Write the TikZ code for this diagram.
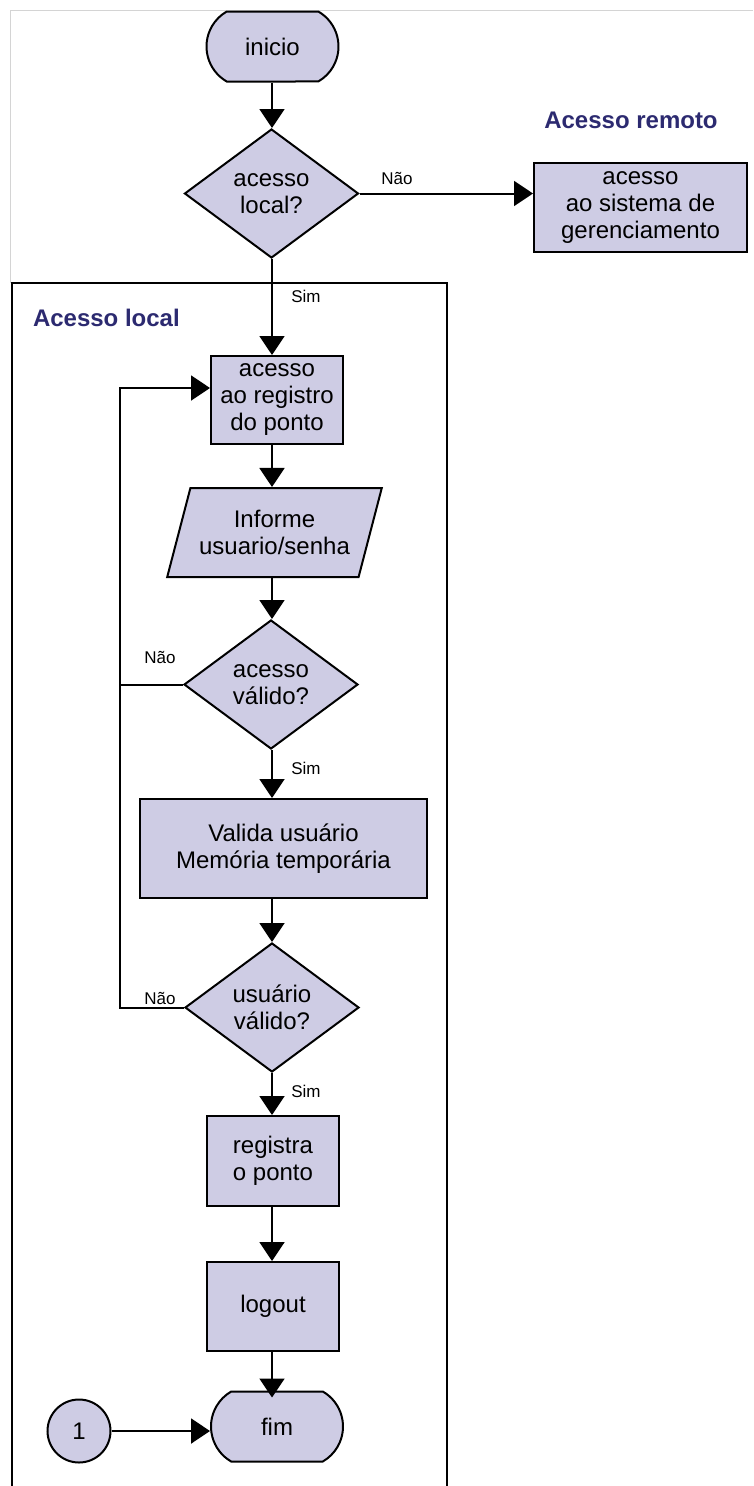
\documentclass[tikz,border=0pt]{standalone}
\usepackage{fontspec}
\setmainfont{Liberation Sans}
\usepackage{tikz}
\usetikzlibrary{
  arrows.meta,
  positioning,
  shapes.geometric,
  shapes.misc,
  calc
}
\usepackage{xcolor}
\definecolor{boxFill}{RGB}{206,204,228}
\definecolor{titleBlue}{RGB}{44,42,112}
\definecolor{pageGray}{RGB}{212,212,212}
\newcommand{\boxFont}{\fontsize{24}{27}\selectfont}
\tikzset{
  process/.style={
    rectangle,
    draw,
    fill=boxFill,
    align=center,
    inner sep=0pt,
    font=\boxFont
  }
}
\tikzset{
  decision/.style={
    diamond,
    draw,
    fill=boxFill,
    align=center,
    inner sep=0pt,
    minimum width=174pt,
    minimum height=129pt,
    font=\boxFont
  }
}
\tikzset{
  terminal/.style={
    rounded rectangle,
    rounded rectangle arc length=120,
    draw,
    fill=boxFill,
    inner sep=0pt,
    minimum width=132pt,
    minimum height=70pt,
    font=\boxFont
  }
}
\tikzset{
  inout/.style={
    trapezium,
    trapezium left angle=65,
    trapezium right angle=115,
    trapezium stretches=true,
    draw,
    fill=boxFill,
    align=center,
    inner sep=0pt,
    minimum width=215pt,
    minimum height=89pt,
    font=\boxFont
  }
}
\tikzset{
  connector/.style={
    circle,
    draw,
    fill=boxFill,
    minimum size=63pt,
    inner sep=0pt,
    font=\fontsize{24}{27}\selectfont
  }
}
\tikzset{
  flowLabel/.style={font=\fontsize{17}{20}\selectfont, inner sep=0pt}
}
\tikzset{
  areaTitle/.style={
    font=\bfseries\fontsize{24}{27}\selectfont,
    text=titleBlue,
    inner sep=0pt
  }
}

\begin{document}
\begin{tikzpicture}[x=1pt, y=-1pt, line width=2pt,
    >={Triangle[length=19pt,width=25pt]}]
  \useasboundingbox (0,0) rectangle (753,1486);

  % page edge and the local area
  \draw[pageGray, line width=1pt] (10,283) -- (10,10) -- (753,10);
  \draw (12,1490) -- (12,283) -- (447,283) -- (447,1490);

  \node[areaTitle] (tituloRemoto) at (631,120) {Acesso remoto};
  \node[areaTitle, anchor=west] (tituloLocal) at (32,318) {Acesso local};

  \node[terminal] (inicio) at (272.5,46.5) {inicio};
  \node[decision] (local) at (271.5,193.5) {acesso\\local?};
  \node[process, minimum width=213pt, minimum height=89pt]
    (remoto) at (640.5,207.5) {acesso\\ao sistema de\\gerenciamento};
  \node[process, minimum width=132pt, minimum height=88pt]
    (registro) at (277,400) {acesso\\ao registro\\do ponto};
  \node[inout] (senha) at (274.5,532.5) {Informe\\usuario/senha};
  \node[decision] (acessoValido) at (271,684.5) {acesso\\válido?};
  \node[process, minimum width=287pt, minimum height=99pt]
    (valida) at (283.5,848.5) {Valida usuário\\Memória temporária};
  \node[decision] (usuarioValido) at (272,1007.5) {usuário\\válido?};
  \node[process, minimum width=132pt, minimum height=90pt]
    (registra) at (273,1161) {registra\\o ponto};
  \node[process, minimum width=132pt, minimum height=89pt]
    (logout) at (273,1306.5) {logout};
  \node[terminal] (fim) at (277,1426.5) {fim};
  \node[connector] (um) at (79,1431) {1};

  \node[flowLabel] (naoRemoto) at (397,178) {Não};
  \node[flowLabel] (simLocal) at (306,296) {Sim};
  \node[flowLabel] (naoAcesso) at (160,657) {Não};
  \node[flowLabel] (simAcesso) at (306,768) {Sim};
  \node[flowLabel] (naoUsuario) at (160,998) {Não};
  \node[flowLabel] (simUsuario) at (306,1091) {Sim};

  \coordinate (col) at (272,0);
  \coordinate (loop) at (120,388);

  \draw[->] (inicio.south -| col) -- (local.north -| col);
  \draw[->] (local.east) -- (local.east -| remoto.west);
  \draw[->] (local.south -| col) -- (registro.north -| col);
  \draw[->] (registro.south -| col) -- (senha.north -| col);
  \draw[->] (senha.south -| col) -- (acessoValido.north -| col);
  \draw[->] (acessoValido.south -| col) -- (valida.north -| col);
  \draw[->] (valida.south -| col) -- (usuarioValido.north -| col);
  \draw[->] (usuarioValido.south -| col) -- (registra.north -| col);
  \draw[->] (registra.south -| col) -- (logout.north -| col);
  \draw[->, shorten >=-7pt] (logout.south -| col) -- (fim.north -| col);
  \draw[->] (um.east) -- (um.east -| fim.west);

  % back to the login
  \draw (acessoValido.west) -- (acessoValido.west -| loop);
  \draw[->] (usuarioValido.west) -| (loop) -- (loop -| registro.west);
\end{tikzpicture}
\end{document}
